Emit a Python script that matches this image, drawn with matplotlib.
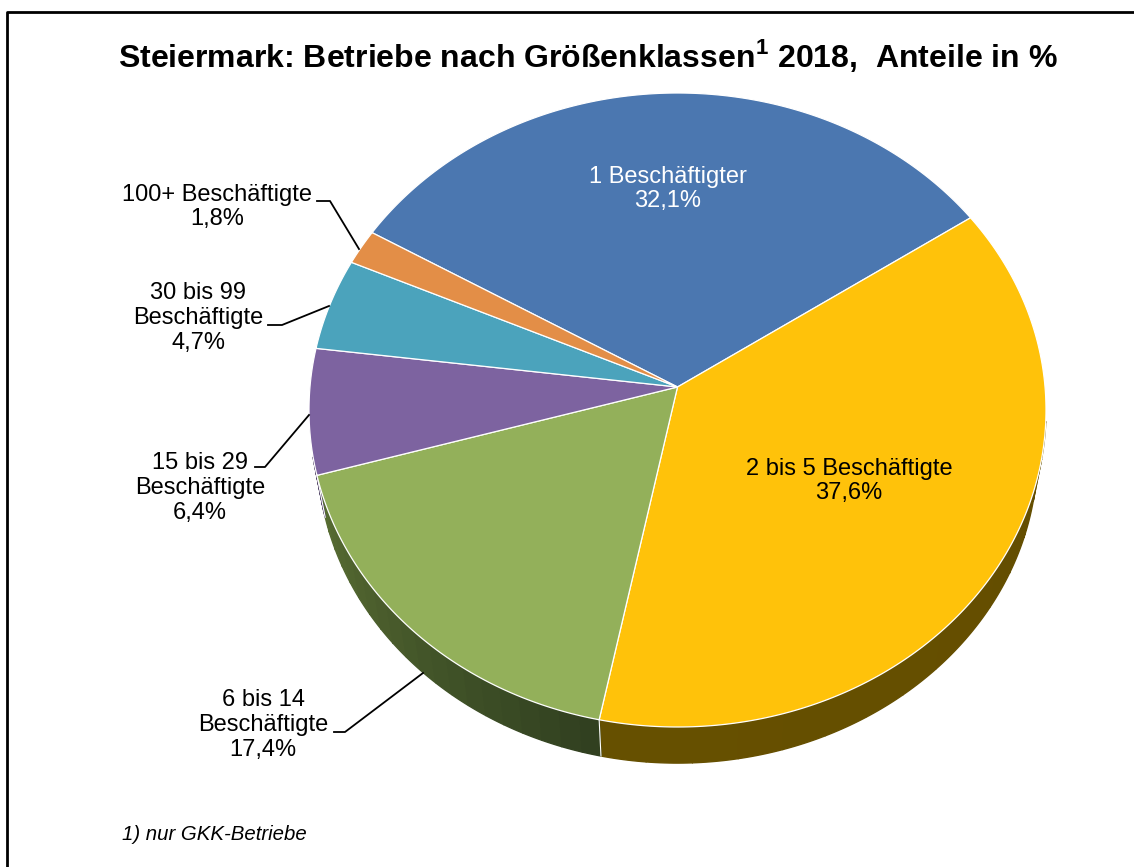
import numpy as np
import matplotlib.pyplot as plt
from matplotlib.colors import to_rgb
from matplotlib.patches import Polygon

plt.rcParams['font.family'] = ['Liberation Sans', 'DejaVu Sans']

# data
categories = ['1 Beschäftigter', '2 bis 5 Beschäftigte', '6 bis 14\nBeschäftigte',
              '15 bis 29\nBeschäftigte', '30 bis 99\nBeschäftigte', '100+ Beschäftigte']
shares = [32.1, 37.6, 17.4, 6.4, 4.7, 1.8]
share_labels = ['32,1%', '37,6%', '17,4%', '6,4%', '4,7%', '1,8%']
colors = ['#4B77B0', '#FFC20A', '#93B05A', '#7D63A0', '#4BA3BC', '#E38E47']
# side wall colours (left end, right end)
wall_colors = [('#2C4468', '#2C4468'), ('#665000', '#634C00'), ('#586D33', '#2F3E1F'),
               ('#4A3B60', '#4A3B60'), ('#2C6170', '#2C6170'), ('#8A5428', '#8A5428')]

W, H = 1134, 867
fig = plt.figure(figsize=(W / 100, H / 100), dpi=100)

# pie axes: ellipse centre and radii in pixels
cx, cy, rx, ry = 677.5, 410, 368.5, 317
lim = 1.25
ax = fig.add_axes([(cx - lim * rx) / W, (H - cy - lim * ry) / H,
                   2 * lim * rx / W, 2 * lim * ry / H])

wedges, _ = ax.pie(shares, colors=colors, startangle=149.5, counterclock=False)
ax.set_aspect('auto')
ax.set_xlim(-lim, lim)
ax.set_ylim(-lim, lim)
ax.axis('off')

# perspective tilt: projective map of the unit circle onto itself,
# moving the pie centre towards the back
k = 23 / ry


def tilt(x, y):
    return x * np.sqrt(1 - k ** 2) / (1 + k * y), (y + k) / (1 + k * y)


scale_b = 0.977          # bottom rim a bit smaller (further away)
drop_b = 43.4 / ry       # bottom rim shift

for w, wc in zip(wedges, wall_colors):
    w.set_visible(False)
    t = np.radians(np.linspace(w.theta1, w.theta2, 200))
    xs, ys = tilt(w.r * np.cos(t), w.r * np.sin(t))
    # top face
    cx0, cy0 = tilt(0.0, 0.0)
    face = np.column_stack([np.r_[cx0, xs], np.r_[cy0, ys]])
    ax.add_patch(Polygon(face, closed=True, facecolor=w.get_facecolor(),
                         edgecolor='white', lw=0.9, zorder=3))
    # side wall (front part only), split in strips for a shade gradient
    c0, c1 = np.array(to_rgb(wc[0])), np.array(to_rgb(wc[1]))
    n = len(xs)
    step = 10
    for j in range(0, n - 1, step):
        sl = slice(j, min(j + step + 1, n))
        tx, ty = xs[sl], ys[sl]
        if ty.min() > -0.15:
            continue
        bx, by = tx * scale_b, ty * scale_b - drop_b
        f = 1 - (j / (n - 1))
        col = c0 * f + c1 * (1 - f)
        ax.add_patch(Polygon(np.column_stack([np.r_[tx, bx[::-1]], np.r_[ty, by[::-1]]]),
                             closed=True, facecolor=col, edgecolor=col, lw=1.0, zorder=2))
    # thin white edge where a slice border meets the front wall
    if ys[0] < 0:
        ax.plot([xs[0], xs[0] * scale_b], [ys[0], ys[0] * scale_b - drop_b],
                color='white', lw=0.8, zorder=2.5)

# overlay in pixel coords for texts, leader lines and frame
bg = fig.add_axes([0, 0, 1, 1])
bg.set_xlim(0, W)
bg.set_ylim(H, 0)
bg.axis('off')
bg.patch.set_alpha(0)
bg.plot([7, 7, W + 5], [H + 5, 12, 12], color='black', lw=2)

fs = 17
# labels inside
bg.text(668, 189, categories[0] + '\n' + share_labels[0], ha='center', va='center',
        fontsize=fs, color='white', linespacing=1.15)
bg.text(849, 481, categories[1] + '\n' + share_labels[1], ha='center', va='center',
        fontsize=fs, color='black', linespacing=1.15)

# outside labels with leader lines
outside = [
    (2, 263, 725, [(334, 732), (345, 732), (423, 673)]),
    (3, 200, 488, [(255, 467), (265, 467), (309, 415)]),
    (4, 198, 318, [(268, 325), (282, 325), (329, 306)]),
    (5, 217, 207, [(317, 201), (330, 201), (359, 249)]),
]
for i, tx, ty, pts in outside:
    bg.text(tx, ty, categories[i] + '\n' + share_labels[i], ha='center', va='center',
            fontsize=fs, color='black', linespacing=1.15)
    xs, ys = zip(*pts)
    bg.plot(xs, ys, color='black', lw=1.3)

bg.text(588, 55, r'Steiermark: Betriebe nach Größenklassen$^{\mathregular{1}}$ 2018,  Anteile in %',
        ha='center', va='center', fontsize=23, fontweight='bold')
bg.text(122, 834, '1) nur GKK-Betriebe', ha='left', va='center', fontsize=14.7,
        style='italic')

fig.savefig('out.png', dpi=100)
